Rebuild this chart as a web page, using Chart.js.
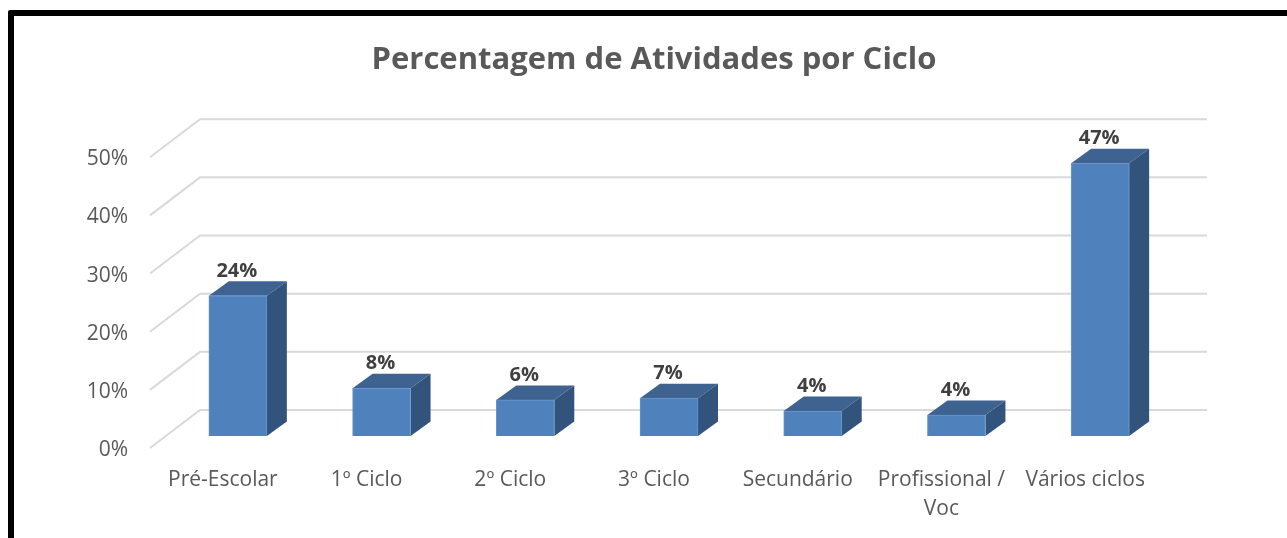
<!DOCTYPE html>
<html><head><meta charset="utf-8">
<style>
html,body{margin:0;padding:0;background:#fff;overflow:hidden}
#wrap{position:relative;width:1287px;height:538px;overflow:hidden}
#frame{position:absolute;left:8px;top:10px;right:-20px;bottom:-20px;border:6px solid #000;border-radius:2px;box-sizing:border-box;pointer-events:none}
canvas{position:absolute;left:0;top:0}
</style>
<script src="https://cdn.jsdelivr.net/npm/chart.js@4"></script>
</head><body><div id="wrap"><canvas id="c" width="1287" height="538"></canvas><div id="frame"></div></div>
<script>
const categories = ['Pré-Escolar','1º Ciclo','2º Ciclo','3º Ciclo','Secundário',['Profissional /','Voc'],'Vários ciclos'];
const values = [24.1, 8.2, 6.2, 6.5, 4.3, 3.6, 46.9];
const yTicks = [0,10,20,30,40,50];
const titleText = 'Percentagem de Atividades por Ciclo';
const FONT = '"Open Sans", sans-serif';

const pseudo3d = {
  id:'pseudo3d',
  beforeDatasetsDraw(chart){
    const {ctx, scales:{y}} = chart;
    ctx.save();
    ctx.strokeStyle='#d9d9d9'; ctx.lineWidth=2;
    yTicks.forEach(t=>{
      const p=y.getPixelForValue(t);
      ctx.beginPath();
      ctx.moveTo(150,p+12);ctx.lineTo(200,p-26);ctx.lineTo(1207,p-26);
      ctx.stroke();
    });
    const meta=chart.getDatasetMeta(0);
    const dx=20,dy=14.5;
    meta.data.forEach(b=>{
      const w=b.width/2, l=b.x-w, r=b.x+w, top=b.y, bot=b.base;
      ctx.fillStyle='#3e6390';
      ctx.beginPath();ctx.moveTo(l,top);ctx.lineTo(l+dx,top-dy);ctx.lineTo(r+dx,top-dy);ctx.lineTo(r,top);ctx.closePath();ctx.fill();
      ctx.fillStyle='#32547c';
      ctx.beginPath();ctx.moveTo(r,top);ctx.lineTo(r+dx,top-dy);ctx.lineTo(r+dx,bot-dy);ctx.lineTo(r,bot);ctx.closePath();ctx.fill();
    });
    ctx.restore();
  },
  afterDatasetsDraw(chart){
    const {ctx}=chart;
    ctx.save();
    ctx.fillStyle='#404040';ctx.font='bold 20px '+FONT;ctx.textAlign='center';ctx.textBaseline='middle';
    chart.getDatasetMeta(0).data.forEach((b,i)=>{
      ctx.fillText(Math.round(values[i])+'%',b.x-1,b.y-25);
    });
    ctx.restore();
  }
};

new Chart(document.getElementById('c'),{
  type:'bar',
  data:{labels:categories,datasets:[{data:values,backgroundColor:'#4f81bd',borderColor:'#6a96cb',borderWidth:1,barThickness:58}]},
  plugins:[pseudo3d],
  options:{
    responsive:false,animation:false,
    layout:{padding:{left:21,right:0,top:42,bottom:0}},
    plugins:{
      legend:{display:false},tooltip:{enabled:false},
      title:{display:true,text:titleText,color:'#595959',font:{family:FONT,size:31,weight:'bold'},padding:{top:0,bottom:66},align:'center',fullSize:true}
    },
    scales:{
      x:{
        grid:{display:false},border:{display:false},
        afterFit(s){s.height=102;},
        ticks:{color:'#595959',font:{family:FONT,size:21,lineHeight:1.38},labelOffset:-15,padding:22,maxRotation:0,autoSkip:false}
      },
      y:{
        min:0,max:50,
        grid:{display:false},border:{display:false},
        afterFit(s){s.width=145;},
        afterBuildTicks(s){s.ticks=yTicks.map(v=>({value:v}));},
        ticks:{color:'#595959',font:{family:FONT,size:21},labelOffset:14,padding:30,callback:v=>v+'%'}
      },
      spacer:{
        position:'right',display:true,
        grid:{display:false},border:{display:false},
        ticks:{display:false},
        afterFit(s){s.width=115;}
      }
    }
  }
});
</script></body></html>
